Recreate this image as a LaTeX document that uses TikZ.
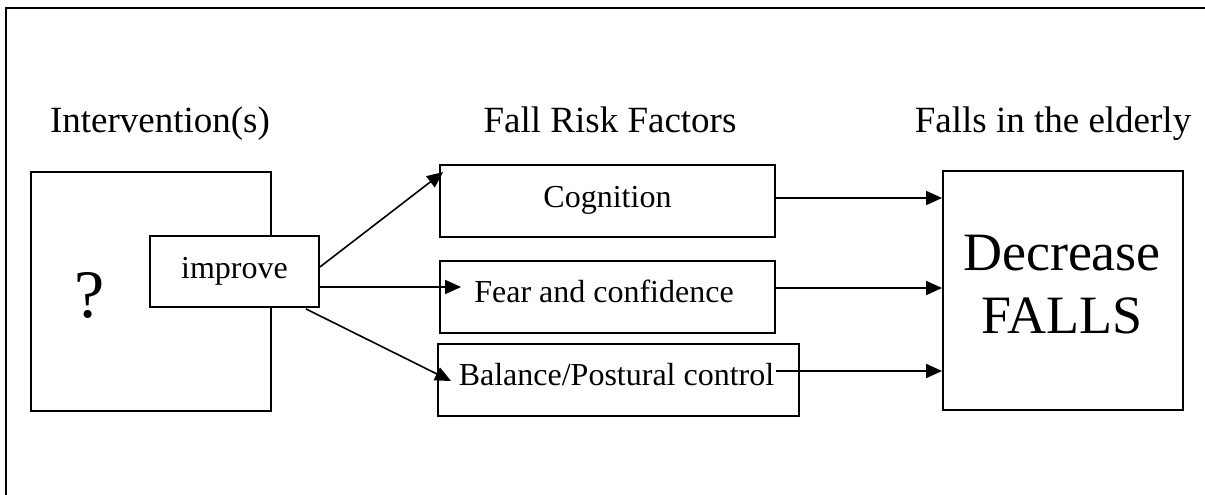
\documentclass[tikz,border=0pt]{standalone}
\usepackage{fontspec}
\setmainfont{Liberation Serif}
\usepackage{tikz}
\usetikzlibrary{positioning,arrows.meta}

\begin{document}
\begin{tikzpicture}[x=1pt, y=-1pt,
		fbox/.style={draw, line width=1.8pt, fill=white, inner sep=0pt},
		arr/.style={-{Triangle[length=16pt,width=14pt]}, line width=1.6pt},
		head/.style={anchor=base, font=\fontsize{37}{44}\selectfont},
		lbl/.style={anchor=base, font=\fontsize{32}{38}\selectfont},
		big/.style={anchor=base, font=\fontsize{54}{63}\selectfont}]
	\useasboundingbox (0,0) rectangle (1205,495);
	\draw[line width=2.5pt] (6,495) -- (6,8) -- (1205,8);
	
	\node[head] (hint) at (160,132) {Intervention(s)};
	\node[head] (hrisk) at (610,132) {Fall Risk Factors};
	\node[head] (hfall) at (1053,132) {Falls in the elderly};
	
	\node[fbox, minimum width=240pt, minimum height=239pt] (qbox) at (151,291.5) {};
	\node[fbox, minimum width=169pt, minimum height=71pt] (impbox) at (234.5,271.5) {};
	\node[fbox, minimum width=335pt, minimum height=72pt] (cogbox) at (607.5,201) {};
	\node[fbox, minimum width=335pt, minimum height=72pt] (fearbox) at (607.5,297) {};
	\node[fbox, minimum width=361pt, minimum height=72pt] (balbox) at (618.5,380) {};
	\node[fbox, minimum width=240pt, minimum height=239pt] (decbox) at (1063,290.5) {};
	
	\node[big, font=\fontsize{68}{78}\selectfont] (qtxt) at (90,317) {?};
	\node[lbl] (imptxt) at (234.5,278) {improve};
	\node[lbl] (cogtxt) at (607.5,207) {Cognition};
	\node[lbl] (feartxt) at (604,302) {Fear and confidence};
	\node[lbl] (baltxt) at (616.5,385) {Balance/Postural control};
	\node[big] (dectxt) at (1062,270) {Decrease};
	\node[big] (falltxt) at (1062,333) {FALLS};
	
	% improve -> risk factors
	\draw[arr] ([yshift=4.5pt]impbox.east) -- ([shift={(4pt,-8pt)}]cogbox.north west);
	\draw[arr] ([yshift=-15.5pt]impbox.east) -- ([shift={(22pt,10pt)}]fearbox.west);
	\draw[arr] ([shift={(-14pt,-1pt)}]impbox.south east) -- ([shift={(14pt,-1pt)}]balbox.west);
	
	% risk factors -> falls
	\coordinate (cogout) at ([yshift=3pt]cogbox.east);
	\coordinate (fearout) at ([yshift=9pt]fearbox.east);
	\coordinate (balout) at ([shift={(-24pt,9pt)}]balbox.east);
	\draw[arr] (cogout) -- (cogout -| decbox.west);
	\draw[arr] (fearout) -- (fearout -| decbox.west);
	\draw[arr] (balout) -- (balout -| decbox.west);
\end{tikzpicture}
\end{document}
